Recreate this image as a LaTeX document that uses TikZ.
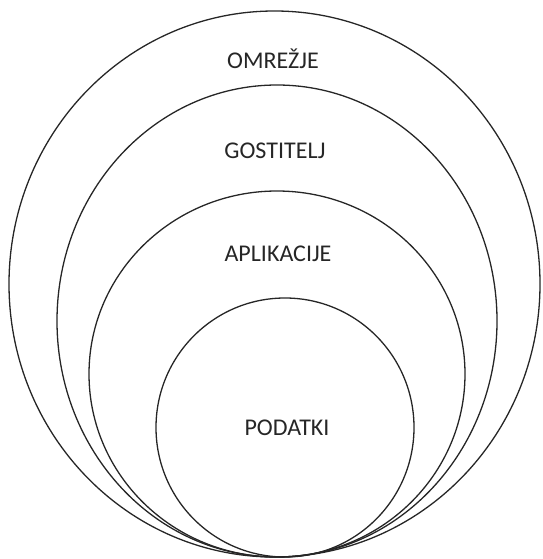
\documentclass[tikz,border=0pt]{standalone}
\usepackage{fontspec}
\setmainfont{Carlito}
\begin{document}
\begin{tikzpicture}[x=1pt,y=-1pt,
  ring/.style={draw=black!85,line width=1.3pt},
  lbl/.style={font=\fontsize{24}{28}\selectfont,text=black!85,inner sep=0pt}]
\useasboundingbox (0,0) rectangle (542,559);
\draw[ring] (274.5,284) ellipse [x radius=265.5, y radius=273];
\draw[ring] (277,321) ellipse [x radius=220, y radius=236];
\draw[ring] (277,374) ellipse [x radius=188, y radius=183];
\draw[ring] (285,427.5) ellipse [x radius=129, y radius=129.5];
\node[lbl] (omr) at (273,59) {OMREŽJE};
\node[lbl] (gos) at (275,151) {GOSTITELJ};
\node[lbl] (apl) at (278,254) {APLIKACIJE};
\node[lbl] (pod) at (287,428) {PODATKI};
\end{tikzpicture}
\end{document}
